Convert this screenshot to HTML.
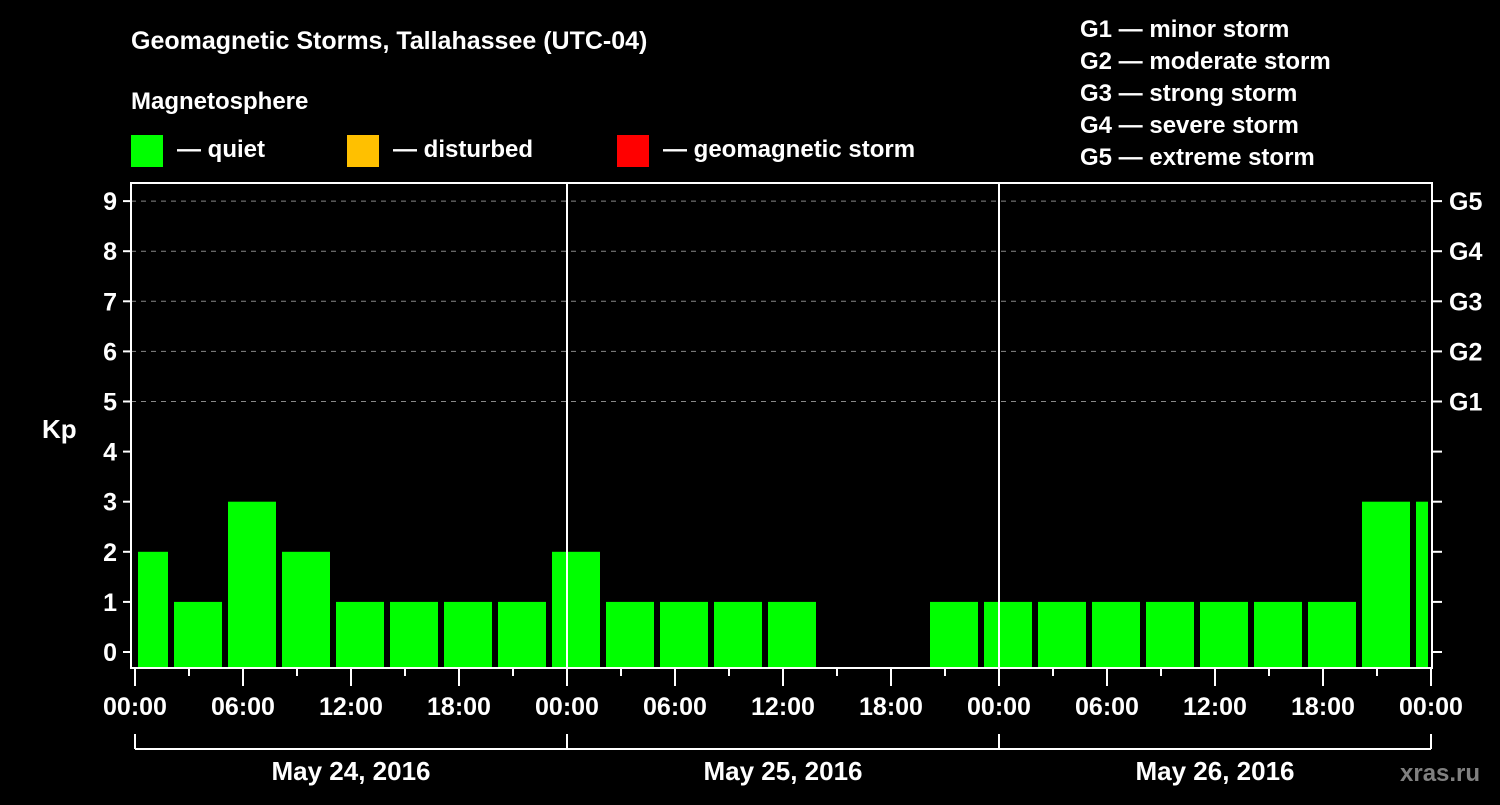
<!DOCTYPE html>
<html><head><meta charset="utf-8"><style>
body{margin:0;background:#000;width:1500px;height:800px;overflow:hidden}
svg text{font-family:"Liberation Sans",Arial,sans-serif;font-weight:bold;fill:#fff}
</style></head><body>
<svg id="c" width="1500" height="800">
<rect width="1500" height="800" fill="#000"/>
<text x="131" y="49" font-size="25">Geomagnetic Storms, Tallahassee (UTC-04)</text>
<text x="131" y="109" font-size="24">Magnetosphere</text>
<g><rect x="131" y="135" width="32" height="32" fill="#00ff00"/><text x="177" y="157" font-size="24">— quiet</text></g>
<g><rect x="347" y="135" width="32" height="32" fill="#ffc000"/><text x="393" y="157" font-size="24">— disturbed</text></g>
<g><rect x="617" y="135" width="32" height="32" fill="#ff0000"/><text x="663" y="157" font-size="24">— geomagnetic storm</text></g>
<g font-size="24">
<text x="1080" y="37">G1 — minor storm</text><text x="1080" y="69">G2 — moderate storm</text><text x="1080" y="101">G3 — strong storm</text><text x="1080" y="133">G4 — severe storm</text><text x="1080" y="165">G5 — extreme storm</text></g>
<text x="42" y="438" font-size="26">Kp</text>
<text x="1400" y="781" font-size="24" fill="#808080" style="fill:#808080">xras.ru</text>
<g id="grid"></g><g id="bars"></g><g id="axes"></g>
</svg>
<script>
const kpValues=[2,1,3,2,1,1,1,1,2,1,1,1,1,0,0,1,1,1,1,1,1,1,1,3,3];
const firstSlotStartHour=-1; // local hour of first 3h slot
const yTicks=[0,1,2,3,4,5,6,7,8,9];
const gLabels=["G1","G2","G3","G4","G5"];
const xTickLabels=["00:00","06:00","12:00","18:00","00:00","06:00","12:00","18:00","00:00","06:00","12:00","18:00","00:00"];
const dayLabels=["May 24, 2016","May 25, 2016","May 26, 2016"];
const X0=135,PXH=18,TOTAL=72;
const x=h=>X0+h*PXH;
const y=v=>652-v*50.1;
const NS="http://www.w3.org/2000/svg";
function mk(p,t,a){const e=document.createElementNS(NS,t);for(const k in a)e.setAttribute(k,a[k]);p.appendChild(e);return e;}
const grid=document.getElementById('grid'),bars=document.getElementById('bars'),axes=document.getElementById('axes');
for(let i=5;i<=9;i++){const l=mk(grid,'line',{x1:131,x2:1432,y1:y(i),y2:y(i),stroke:'#888','stroke-dasharray':'5,5','stroke-width':1});

}
kpValues.forEach((v,i)=>{if(v<=0)return;
let s=Math.max(0,firstSlotStartHour+3*i),e=Math.min(TOTAL,firstSlotStartHour+3*i+3);
const r=mk(bars,'rect',{x:x(s)+3,y:y(v),width:x(e)-x(s)-6,height:668-y(v),fill:'#00ff00'});

});
const fr=mk(axes,'rect',{x:131,y:183,width:1301,height:485,fill:'none',stroke:'#fff','stroke-width':2});


[24,48].forEach(h=>{const l=mk(axes,'line',{x1:x(h),x2:x(h),y1:183,y2:668,stroke:'#fff','stroke-width':2});

});
yTicks.forEach(v=>{mk(axes,'line',{x1:123,x2:131,y1:y(v),y2:y(v),stroke:'#fff','stroke-width':2});
mk(axes,'line',{x1:1432,x2:1442,y1:y(v),y2:y(v),stroke:'#fff','stroke-width':2});
const t=mk(axes,'text',{x:117,y:y(v)+9,'font-size':25,'text-anchor':'end'});t.textContent=v;

});
gLabels.forEach((g,i)=>{const t=mk(axes,'text',{x:1449,y:y(5+i)+9,'font-size':25});t.textContent=g;

});
for(let h=0;h<=TOTAL;h+=3){const major=h%6===0;mk(axes,'line',{x1:x(h),x2:x(h),y1:668,y2:major?686:676,stroke:'#fff','stroke-width':2});}
xTickLabels.forEach((s,i)=>{const t=mk(axes,'text',{x:x(i*6),y:715,'font-size':25,'text-anchor':'middle'});t.textContent=s;

});
mk(axes,'line',{x1:x(0),x2:x(TOTAL),y1:749,y2:749,stroke:'#fff','stroke-width':2});
for(let d=0;d<=3;d++)mk(axes,'line',{x1:x(d*24),x2:x(d*24),y1:734,y2:749,stroke:'#fff','stroke-width':2});
dayLabels.forEach((s,i)=>{const t=mk(axes,'text',{x:x(i*24+12),y:780,'font-size':26,'text-anchor':'middle'});t.textContent=s;

});
</script>
</body></html>
